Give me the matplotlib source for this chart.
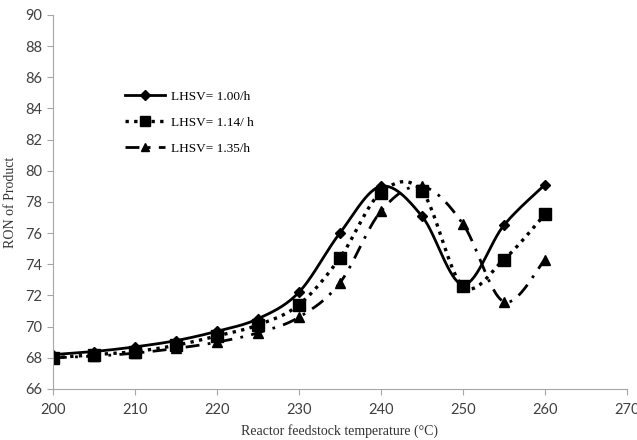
import numpy as np
import matplotlib.pyplot as plt

temps = [200, 205, 210, 215, 220, 225, 230, 235, 240, 245, 250, 255, 260]
ron_100 = [68.2, 68.4, 68.7, 69.1, 69.7, 70.5, 72.2, 76.0, 79.0, 77.1, 72.7, 76.5, 79.1]
ron_114 = [68.0, 68.2, 68.4, 68.8, 69.4, 70.1, 71.4, 74.4, 78.6, 78.7, 72.6, 74.3, 77.2]
ron_135 = [68.0, 68.1, 68.3, 68.6, 69.0, 69.6, 70.6, 72.8, 77.4, 79.0, 76.6, 71.6, 74.3]
labels = ["LHSV= 1.00/h", "LHSV= 1.14/ h", "LHSV= 1.35/h"]


def smooth(x, y, n=30):
    # Catmull-Rom style bezier through every point
    x = np.asarray(x, float)
    y = np.asarray(y, float)
    px = np.concatenate([[x[0]], x, [x[-1]]])
    py = np.concatenate([[y[0]], y, [y[-1]]])
    xs, ys = [], []
    t = np.linspace(0, 1, n)
    for i in range(1, len(px) - 2):
        p0 = np.array([px[i], py[i]])
        p3 = np.array([px[i + 1], py[i + 1]])
        c1 = p0 + (p3 - np.array([px[i - 1], py[i - 1]])) / 6
        c2 = p3 - (np.array([px[i + 2], py[i + 2]]) - p0) / 6
        b = ((1 - t) ** 3)[:, None] * p0 + (3 * (1 - t) ** 2 * t)[:, None] * c1 \
            + (3 * (1 - t) * t ** 2)[:, None] * c2 + (t ** 3)[:, None] * p3
        xs.extend(b[:, 0])
        ys.extend(b[:, 1])
    return xs, ys


fig = plt.figure(figsize=(6.37, 4.4), dpi=100)
ax = fig.add_axes([0.083, 0.116, 0.901, 0.85])

styles = [
    dict(ls="-", lw=2.0, marker="D", ms=5.5),
    dict(ls=(0, (1, 1.6)), lw=2.4, marker="s", ms=8),
    dict(ls=(0, (5, 3, 1, 3)), lw=2.0, marker="^", ms=7.5),
]
for y, lab, st in zip([ron_100, ron_114, ron_135], labels, styles):
    sx, sy = smooth(temps, y)
    ax.plot(sx, sy, color="black", ls=st["ls"], lw=st["lw"])
    ax.plot(temps, y, ls="none", marker=st["marker"], ms=st["ms"], color="black")
    ax.plot([], [], color="black", ls=st["ls"], lw=st["lw"], marker=st["marker"],
            ms=st["ms"] * 0.85, label=lab)

ax.set_xlim(200, 270)
ax.set_ylim(66, 90)
ax.set_xticks(range(200, 271, 10))
ax.set_yticks(range(66, 91, 2))

for s in ["top", "right"]:
    ax.spines[s].set_visible(False)
for s in ["left", "bottom"]:
    ax.spines[s].set_color("#a6a6a6")
ax.tick_params(colors="#a6a6a6", labelcolor="#404040", labelsize=10.5, length=4)
ax.tick_params(axis="x", pad=6)
for lbl in ax.get_xticklabels() + ax.get_yticklabels():
    lbl.set_family("Lato")

ax.set_xlabel("Reactor feedstock temperature (°C)", family="Liberation Serif",
              fontsize=10, color="#333333", labelpad=5)
ax.set_ylabel("RON of Product", family="Liberation Serif", fontsize=10,
              color="#333333", labelpad=6)

ax.legend(loc="upper left", bbox_to_anchor=(0.105, 0.83), frameon=False,
          prop={"family": "Liberation Serif", "size": 9.5}, handlelength=3.0,
          labelspacing=1.05, handletextpad=0.5)

fig.savefig("out.png", dpi=100)
